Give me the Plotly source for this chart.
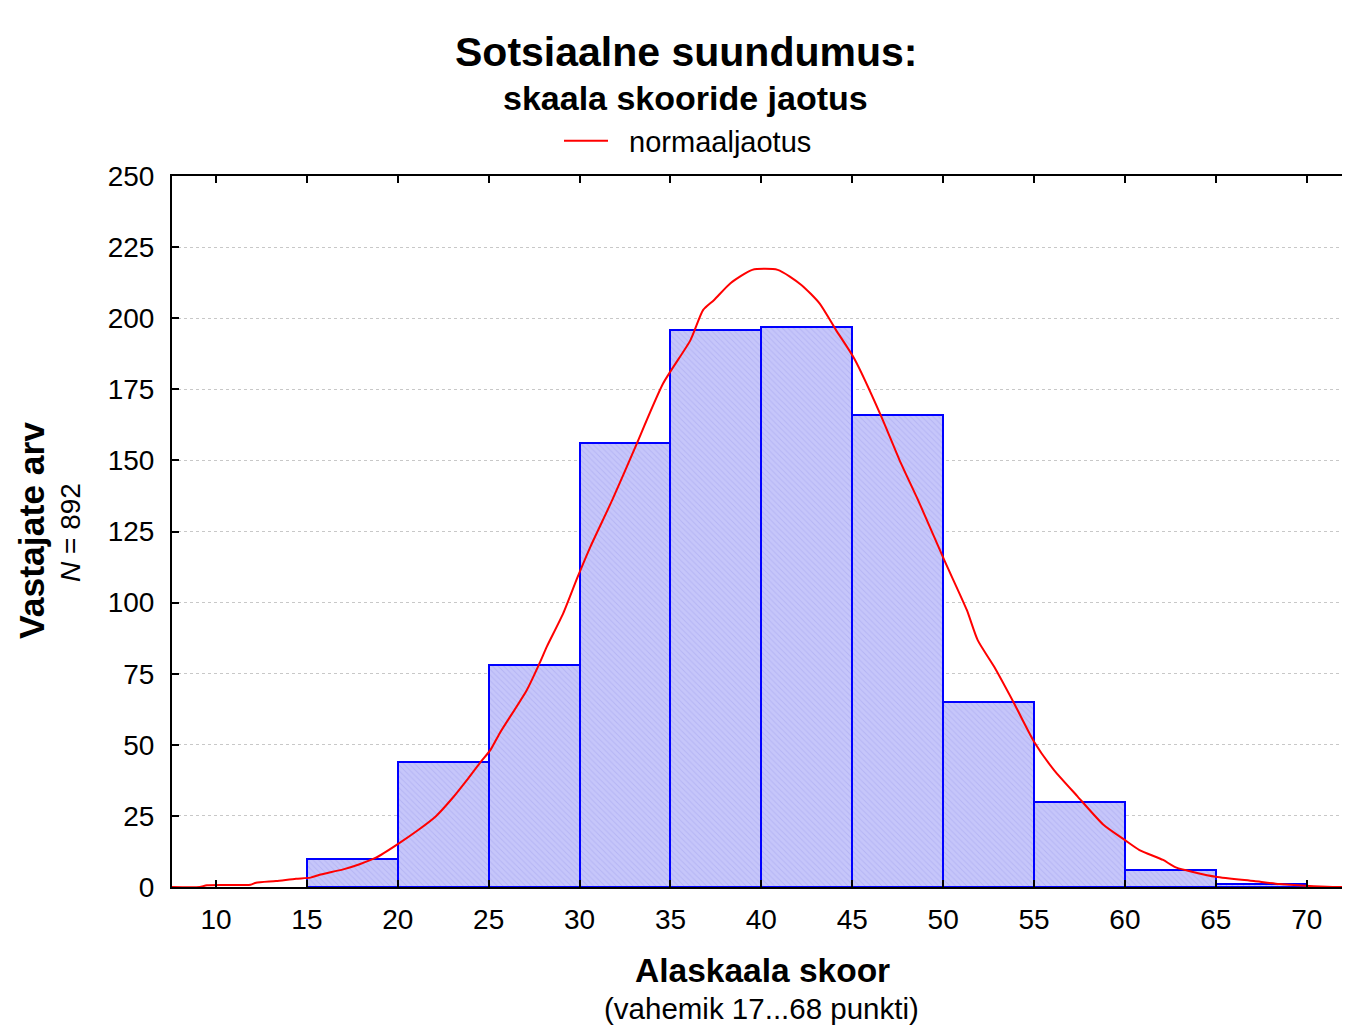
import plotly.graph_objects as go

# histogram bins (left edges, width 5) and counts
bin_left = [15, 20, 25, 30, 35, 40, 45, 50, 55, 60, 65]
counts = [10, 44, 78, 156, 196, 197, 166, 65, 30, 6, 1]
bin_width = 5

# fitted normal curve
curve_x = [7.5, 9.1, 9.5, 11.9, 12.2, 13.3, 14.4, 15.2, 15.7, 17.0, 17.9, 18.8, 20.0,
           21.2, 22.1, 23.0, 23.8, 24.5, 25.1, 25.6, 27.1, 27.8, 28.2, 29.1, 29.9, 30.6,
           31.8, 33.0, 34.6, 36.1, 36.8, 37.4, 38.3, 39.5, 40.9, 42.2, 43.2, 44.1, 45.1,
           46.6, 47.6, 48.7, 50.1, 51.3, 51.9, 52.8, 53.9, 55.0, 56.1, 57.4, 58.8, 60.0,
           60.8, 62.1, 62.8, 65.0, 67.1, 68.5, 71.1, 72.4]
curve_y = [0, 0, 0.6, 0.8, 1.5, 2.1, 2.9, 3.3, 4.3, 6.2, 8.0, 10.3, 15.1,
           20.4, 24.9, 31.2, 37.6, 43.5, 48.2, 54.0, 69.3, 78.7, 84.5, 96.2, 109.1, 119.7,
           136.1, 153.7, 177.1, 192.3, 202.9, 206.4, 212.3, 217, 217, 211.7, 205.2, 195.9, 185.9,
           165.4, 150.1, 134.9, 114.4, 97.4, 86.8, 77.5, 64.6, 51.1, 41.1, 31.8, 22.0, 16.5,
           13.0, 9.5, 6.9, 3.6, 2.1, 1.05, 0.1, 0]

x_ticks = [10, 15, 20, 25, 30, 35, 40, 45, 50, 55, 60, 65, 70]
y_ticks = [0, 25, 50, 75, 100, 125, 150, 175, 200, 225, 250]

FONT = "Liberation Sans, Arial, sans-serif"

# page sits inside the default 8px body margin
PW = 1170       # plot width in px
PH = 711        # plot height in px
LEFT = 172      # page x of plot left edge
BOTTOM = 887    # page y of plot bottom edge


def px(x):
    return (x - LEFT) / PW


def py(y):
    return (BOTTOM - y) / PH


centers = [b + bin_width / 2 for b in bin_left]

fig = go.Figure()
fig.add_trace(go.Bar(
    x=centers, y=counts, width=bin_width, showlegend=False,
    marker=dict(color="#c4c4fa", line=dict(color="#0000ff", width=2),
                pattern=dict(shape="\\", size=4, solidity=0.25,
                             fgcolor="#a4a4ee", bgcolor="#c6c6fa")),
    hoverinfo="x+y",
))
fig.add_trace(go.Scatter(
    x=curve_x, y=curve_y, mode="lines", name="\u00a0\u00a0normaaljaotus",
    line=dict(color="#ff0000", width=2, shape="spline", smoothing=0.6),
))

fig.update_layout(
    width=1334, height=1018,
    margin=dict(l=164, r=0, t=168, b=139),
    plot_bgcolor="white", paper_bgcolor="white",
    font=dict(family=FONT, color="black", size=28),
    bargap=0,
    showlegend=True,
    legend=dict(orientation="h", x=px(688), y=py(141), xanchor="center", yanchor="middle",
                font=dict(size=29), bgcolor="rgba(0,0,0,0)", itemwidth=44),
)

fig.update_xaxes(
    range=[7.58, 71.94], tickvals=x_ticks, ticks="inside", ticklen=7, tickwidth=2,
    tickcolor="black", showline=True, linecolor="black", linewidth=2, mirror="ticks",
    showgrid=False, zeroline=False, ticklabelstandoff=6,
    tickfont=dict(size=28),
)
fig.update_yaxes(
    range=[0, 250], tickvals=y_ticks, ticks="inside", ticklen=7, tickwidth=2,
    tickcolor="black", showline=True, linecolor="black", linewidth=2,
    showgrid=True, gridcolor="#c8c8c8", griddash="dot", gridwidth=1, zeroline=False,
    ticklabelstandoff=10, tickfont=dict(size=28),
)

# titles
fig.add_annotation(text="<b>Sotsiaalne suundumus:</b>", xref="paper", yref="paper",
                   x=px(686), y=py(52), showarrow=False,
                   xanchor="center", yanchor="middle", font=dict(size=41))
fig.add_annotation(text="<b>skaala skooride jaotus</b>", xref="paper", yref="paper",
                   x=px(685), y=py(98), showarrow=False,
                   xanchor="center", yanchor="middle", font=dict(size=34))
fig.add_annotation(text="<b>Alaskaala skoor</b>", xref="paper", yref="paper",
                   x=px(762), y=py(970), showarrow=False,
                   xanchor="center", yanchor="middle", font=dict(size=33.5))
fig.add_annotation(text="(vahemik 17...68 punkti)", xref="paper", yref="paper",
                   x=px(761), y=py(1008), showarrow=False,
                   xanchor="center", yanchor="middle", font=dict(size=29.5))
fig.add_annotation(text="<b>Vastajate arv</b>", xref="paper", yref="paper",
                   x=px(32), y=py(531), showarrow=False,
                   textangle=-90, xanchor="center", yanchor="middle", font=dict(size=35.5))
fig.add_annotation(text="<i>N</i> = 892", xref="paper", yref="paper",
                   x=px(70), y=py(533), showarrow=False,
                   textangle=-90, xanchor="center", yanchor="middle", font=dict(size=28))

fig.write_html("out.html")
